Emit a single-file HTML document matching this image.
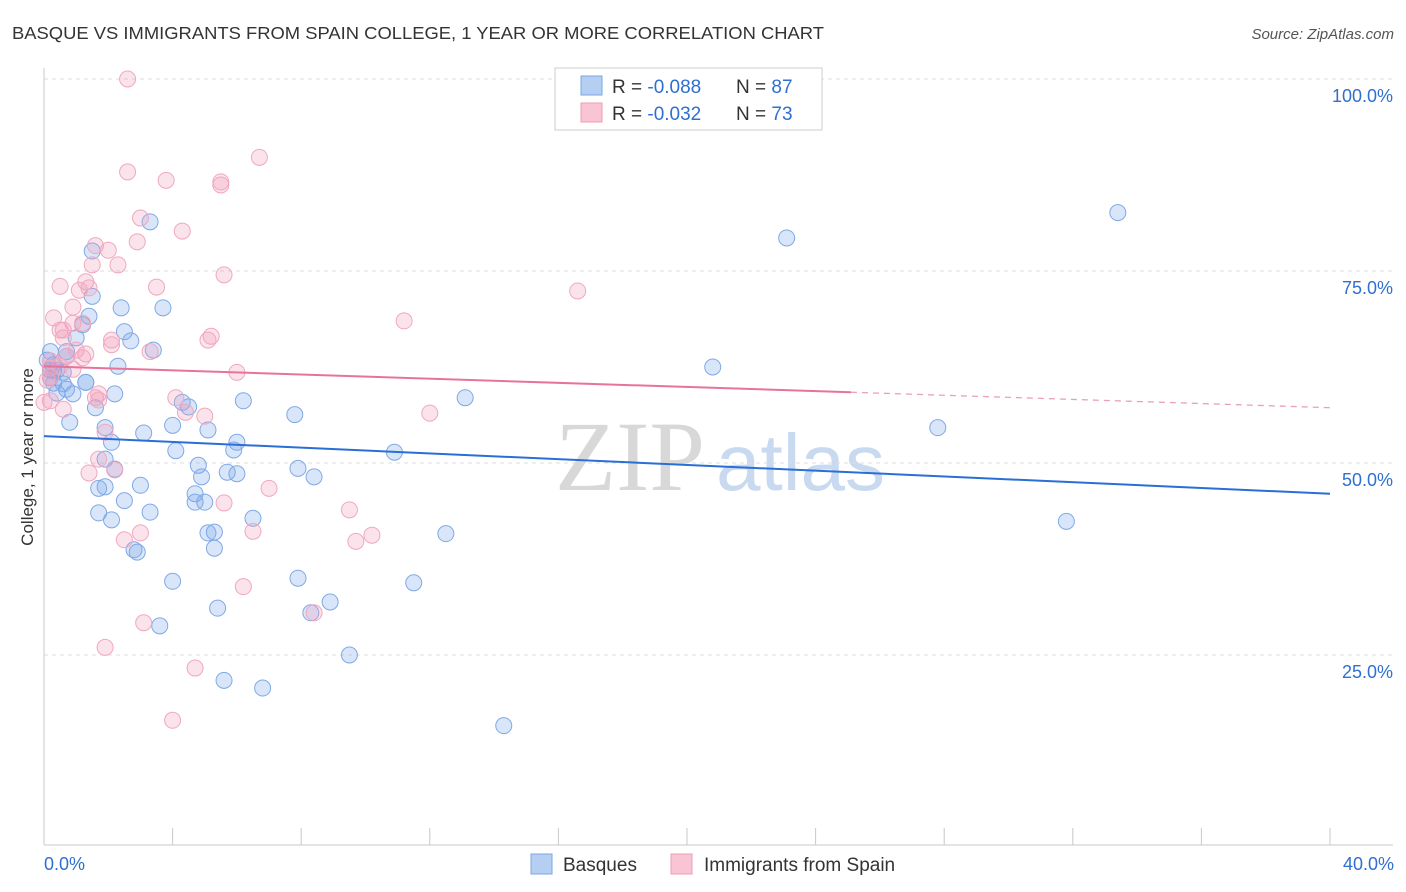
<!DOCTYPE html>
<html><head><meta charset="utf-8"><style>
body{margin:0;background:#fff;font-family:"Liberation Sans",sans-serif;}
svg{display:block}
</style></head><body>
<svg id="c" width="1406" height="892" xmlns="http://www.w3.org/2000/svg">
<text x="12" y="39" font-size="17.5" fill="#333" textLength="812" lengthAdjust="spacingAndGlyphs">BASQUE VS IMMIGRANTS FROM SPAIN COLLEGE, 1 YEAR OR MORE CORRELATION CHART</text>
<text x="1394" y="39" font-size="15" fill="#555" font-style="italic" text-anchor="end">Source: ZipAtlas.com</text>
<g>
<text x="555" y="490" font-size="100" font-family="Liberation Serif,serif" fill="#d8d8d8">ZIP</text>
<text x="716" y="490" font-size="80" fill="#c8d9f0">atlas</text>
</g>
<g id="grid"></g>
<g id="axes"></g>
<g id="pts"></g>
<g id="lines"></g>
<text transform="translate(33,457) rotate(-90)" font-size="17" fill="#333" text-anchor="middle">College, 1 year or more</text>
<g>
<rect x="555" y="68" width="267" height="62" fill="#fff" stroke="#ccc"/>
<rect x="581" y="76" width="21" height="19" fill="#b5cff3" stroke="#7aa5e6"/>
<rect x="581" y="103" width="21" height="19" fill="#f9c5d4" stroke="#ee9cb5"/>
<text x="612" y="93" font-size="19" fill="#333">R = <tspan fill="#2f6fd0">-0.088</tspan></text>
<text x="736" y="93" font-size="19" fill="#333">N = <tspan fill="#2f6fd0">87</tspan></text>
<text x="612" y="120" font-size="19" fill="#333">R = <tspan fill="#2f6fd0">-0.032</tspan></text>
<text x="736" y="120" font-size="19" fill="#333">N = <tspan fill="#2f6fd0">73</tspan></text>
</g>
<g>
<rect x="531" y="854" width="21" height="20" fill="#b5cff3" stroke="#7aa5e6"/>
<text x="563" y="871" font-size="19" fill="#333">Basques</text>
<rect x="671" y="854" width="21" height="20" fill="#f9c5d4" stroke="#ee9cb5"/>
<text x="704" y="871" font-size="19" fill="#333">Immigrants from Spain</text>
</g>
</svg>
<script>
const yTicks=[25,50,75,100];
const yTickLabels=["25.0%","50.0%","75.0%","100.0%"];
const xTickLabels=["0.0%","40.0%"];
const basqueX=[33.4,23.1,20.8,27.8,31.8,13.1,10.9,12.5,11.5,14.3,9.5,8.9,8.3,7.9,7.8,7.9,8.4,6.8,5.6,5.4,5.3,5.3,5.1,6.5,6.2,6.0,5.9,6.0,5.7,4.8,4.9,5.1,5.0,4.7,4.7,4.5,4.3,4.1,4.0,4.0,3.6,3.3,3.1,3.0,2.9,2.8,2.5,2.1,1.9,1.7,1.9,2.1,1.9,2.2,2.3,2.2,1.7,1.6,1.3,0.9,0.8,0.7,0.6,0.4,0.6,0.4,0.3,0.2,0.3,0.2,0.1,0.2,0.7,0.7,1.0,1.2,1.4,1.5,1.5,2.4,3.3,3.7,2.5,2.7,3.4,1.3,0.3];
const basqueY=[82.6,79.3,62.5,54.6,42.4,58.5,51.4,40.8,34.4,15.8,25.0,31.9,30.5,35.0,56.3,49.3,48.2,20.7,21.7,31.1,38.9,41.0,40.9,42.8,58.1,52.7,51.7,48.6,48.8,49.7,48.2,54.3,44.9,46.0,44.9,57.3,57.9,51.6,54.9,34.6,28.8,43.6,53.9,47.1,38.4,38.7,45.1,42.6,46.9,43.5,50.5,52.7,54.6,59.0,62.6,49.2,46.7,57.2,60.5,59.0,55.3,59.6,60.3,59.1,61.8,62.1,60.4,61.1,62.8,62.1,63.4,64.5,64.5,63.9,66.3,68.0,69.1,71.7,77.6,70.2,81.4,70.2,67.1,65.9,64.7,60.5,62.0];
const spainX=[2.6,21.0,6.7,2.6,3.8,5.5,5.5,3.0,4.3,2.9,1.6,2.0,2.3,1.5,5.6,1.3,1.4,0.5,16.6,3.5,0.9,0.3,11.2,0.5,0.9,1.2,0.6,5.2,5.1,2.1,2.1,3.3,1.3,0.7,1.2,0.2,0.5,0.2,0.9,6.0,0.1,4.1,1.6,1.7,0.2,0.6,4.4,5.0,12.0,1.9,2.2,1.4,1.7,5.6,7.0,9.5,9.7,10.2,6.5,3.0,2.5,6.2,3.1,8.4,1.9,4.7,4.0,0.0,0.2,0.6,1.0,1.1,1.7];
const spainY=[100.0,94.4,89.8,87.9,86.8,86.6,86.2,81.9,80.2,78.8,78.3,77.7,75.8,75.8,74.5,73.6,72.8,73.0,72.4,72.9,70.3,68.9,68.5,67.3,68.2,68.2,66.3,66.5,66.0,66.0,65.4,64.5,64.2,63.9,63.7,63.3,62.6,62.4,62.2,61.8,60.8,58.5,58.5,59.0,58.1,57.0,56.6,56.1,56.5,54.0,49.1,48.7,50.5,44.8,46.7,43.9,39.8,40.6,41.1,40.9,40.0,33.9,29.2,30.5,26.0,23.3,16.5,57.9,61.2,67.3,64.7,72.5,58.2];
const basqueFit=[53.5,46.0];
const spainFit=[62.6,57.2];
const spainSolidEnd=25.1;

const NS="http://www.w3.org/2000/svg";
const sx=v=>44+v/40*1286;
const sy=v=>847-v*7.68;
function mk(tag,attrs,parent){const e=document.createElementNS(NS,tag);for(const k in attrs)e.setAttribute(k,attrs[k]);parent.appendChild(e);return e;}
const grid=document.getElementById('grid'),axes=document.getElementById('axes'),pts=document.getElementById('pts'),lines=document.getElementById('lines');
yTicks.forEach((t,i)=>{
  const l=mk('line',{x1:44,x2:1393,y1:sy(t),y2:sy(t),stroke:'#ddd','stroke-dasharray':'4,4'},grid);
  
  
  const tx=mk('text',{x:1393,y:sy(t)+23,'font-size':18,fill:'#2f6fd0','text-anchor':'end'},axes);
  tx.textContent=yTickLabels[i];
  
  
});
const ya=mk('line',{x1:44,x2:44,y1:68,y2:845,stroke:'#c8c8c8'},axes);


const xa=mk('line',{x1:44,x2:1393,y1:845,y2:845,stroke:'#c8c8c8'},axes);


for(let i=0;i<=10;i++){
  const tk=mk('line',{x1:sx(i*4),x2:sx(i*4),y1:828,y2:845,stroke:'#c8c8c8'},axes);
  
  
}
[[0,'start',44],[40,'end',1394]].forEach((a,i)=>{
  const tx=mk('text',{x:a[2],y:870,'font-size':18,fill:'#2f6fd0','text-anchor':a[1]},axes);
  tx.textContent=xTickLabels[i];
  
  
});
function drawPts(X,Y,fill,stroke,name){
  X.forEach((x,i)=>{
    const c=mk('circle',{cx:sx(x),cy:sy(Y[i]),r:8,fill:fill,stroke:stroke,'stroke-width':1},pts);
    
    
  });
}
drawPts(basqueX,basqueY,'rgba(120,165,235,0.28)','#7fa9e6','basque-point');
drawPts(spainX,spainY,'rgba(242,155,185,0.28)','#f0a8be','spain-point');
const bl=mk('line',{x1:sx(0),y1:sy(basqueFit[0]),x2:sx(40),y2:sy(basqueFit[1]),stroke:'#2a6fd6','stroke-width':2},lines);


const sm=spainFit[0]+(spainFit[1]-spainFit[0])*spainSolidEnd/40;
const pl=mk('line',{x1:sx(0),y1:sy(spainFit[0]),x2:sx(spainSolidEnd),y2:sy(sm),stroke:'#e8739a','stroke-width':2},lines);


const pd=mk('line',{x1:sx(spainSolidEnd),y1:sy(sm),x2:sx(40),y2:sy(spainFit[1]),stroke:'#e8a0b8','stroke-width':1.3,'stroke-dasharray':'6,5'},lines);


</script>
</body></html>
